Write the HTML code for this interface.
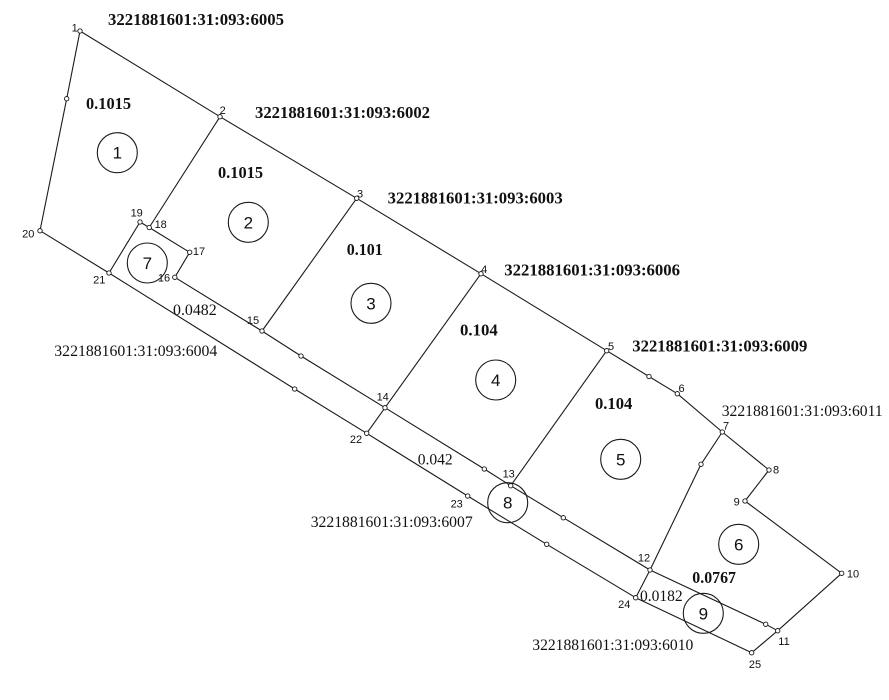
<!DOCTYPE html>
<html>
<head>
<meta charset="utf-8">
<style>
html,body{margin:0;padding:0;background:#fff;}
svg{display:block;}
.ln{fill:none;stroke:#1a1a1a;stroke-width:1.1;stroke-linejoin:round;}
.nd{fill:#fff;stroke:#1a1a1a;stroke-width:0.9;}
.cir{fill:none;stroke:#1a1a1a;stroke-width:1.1;}
.id{font-family:"Liberation Sans",sans-serif;font-size:11px;fill:#111;text-anchor:middle;}
.cn{font-family:"Liberation Sans",sans-serif;font-size:17px;fill:#111;text-anchor:middle;}
.bl{font-family:"Liberation Serif",serif;font-size:16.5px;font-weight:bold;fill:#111;}
.nl{font-family:"Liberation Serif",serif;font-size:15.7px;fill:#111;}
</style>
</head>
<body>
<svg width="889" height="700" viewBox="0 0 889 700" xmlns="http://www.w3.org/2000/svg">
<rect width="889" height="700" fill="#fff"/>
<!-- outer boundary -->
<polyline class="ln" points="80,31 220,116.7 356.7,198.3 481,273.7 606.7,350.7 649,376.5 677.3,393.7 722.3,432 769,470 745,501 841.7,573.3 777.7,630.7 751.7,652.7 635.7,597.7 546.7,544.3 467.7,496 366.7,433.3 294.7,389 109,273 40,230.7 66.7,98.7 80,31"/>
<!-- inner line -->
<polyline class="ln" points="189.7,252.3 174.8,277.3 262,331 301,356 385,407.7 484.3,469 510.7,485.7 563.3,517.7 650,570 765.7,624.3 777.7,630.7"/>
<polyline class="ln" points="109,273 140,222 149.2,227.5 189.7,252.3"/>
<line class="ln" x1="220" y1="116.7" x2="149.2" y2="227.5"/>
<line class="ln" x1="356.7" y1="198.3" x2="262" y2="331"/>
<polyline class="ln" points="481,273.7 385,407.7 366.7,433.3"/>
<line class="ln" x1="606.7" y1="350.7" x2="510.7" y2="485.7"/>
<polyline class="ln" points="722.3,432 701,464.3 650,570 635.7,597.7"/>

<!-- parcel circles -->
<circle class="cir" cx="117.3" cy="152.7" r="20"/>
<circle class="cir" cx="248.3" cy="222.3" r="20"/>
<circle class="cir" cx="371" cy="303.3" r="20"/>
<circle class="cir" cx="495.7" cy="380" r="20"/>
<circle class="cir" cx="620.7" cy="459.3" r="20"/>
<circle class="cir" cx="738.7" cy="544.3" r="20"/>
<circle class="cir" cx="147.3" cy="263" r="20"/>
<circle class="cir" cx="507.7" cy="502.7" r="20"/>
<circle class="cir" cx="703.3" cy="613.3" r="20"/>

<text class="cn" x="117.3" y="158.7">1</text>
<text class="cn" x="248.3" y="228.3">2</text>
<text class="cn" x="371" y="309.3">3</text>
<text class="cn" x="495.7" y="386">4</text>
<text class="cn" x="620.7" y="465.3">5</text>
<text class="cn" x="738.7" y="550.3">6</text>
<text class="cn" x="147.3" y="269">7</text>
<text class="cn" x="507.7" y="508.7">8</text>
<text class="cn" x="703.3" y="619.3">9</text>

<!-- nodes -->
<g>
<circle class="nd" cx="80" cy="31" r="2.2"/>
<circle class="nd" cx="220" cy="116.7" r="2.2"/>
<circle class="nd" cx="356.7" cy="198.3" r="2.2"/>
<circle class="nd" cx="481" cy="273.7" r="2.2"/>
<circle class="nd" cx="606.7" cy="350.7" r="2.2"/>
<circle class="nd" cx="649" cy="376.5" r="2.2"/>
<circle class="nd" cx="677.3" cy="393.7" r="2.2"/>
<circle class="nd" cx="722.3" cy="432" r="2.2"/>
<circle class="nd" cx="769" cy="470" r="2.2"/>
<circle class="nd" cx="745" cy="501" r="2.2"/>
<circle class="nd" cx="841.7" cy="573.3" r="2.2"/>
<circle class="nd" cx="777.7" cy="630.7" r="2.2"/>
<circle class="nd" cx="765.7" cy="624.3" r="2.2"/>
<circle class="nd" cx="751.7" cy="652.7" r="2.2"/>
<circle class="nd" cx="635.7" cy="597.7" r="2.2"/>
<circle class="nd" cx="546.7" cy="544.3" r="2.2"/>
<circle class="nd" cx="467.7" cy="496" r="2.2"/>
<circle class="nd" cx="366.7" cy="433.3" r="2.2"/>
<circle class="nd" cx="294.7" cy="389" r="2.2"/>
<circle class="nd" cx="109" cy="273" r="2.2"/>
<circle class="nd" cx="40" cy="230.7" r="2.2"/>
<circle class="nd" cx="66.7" cy="98.7" r="2.2"/>
<circle class="nd" cx="189.7" cy="252.3" r="2.2"/>
<circle class="nd" cx="174.8" cy="277.3" r="2.2"/>
<circle class="nd" cx="262" cy="331" r="2.2"/>
<circle class="nd" cx="301" cy="356" r="2.2"/>
<circle class="nd" cx="385" cy="407.7" r="2.2"/>
<circle class="nd" cx="484.3" cy="469" r="2.2"/>
<circle class="nd" cx="510.7" cy="485.7" r="2.2"/>
<circle class="nd" cx="563.3" cy="517.7" r="2.2"/>
<circle class="nd" cx="650" cy="570" r="2.2"/>
<circle class="nd" cx="140" cy="222" r="2.2"/>
<circle class="nd" cx="149.2" cy="227.5" r="2.2"/>
<circle class="nd" cx="701" cy="464.3" r="2.2"/>
</g>

<!-- point ids -->
<text class="id" x="74.7" y="31.5">1</text>
<text class="id" x="222.7" y="114">2</text>
<text class="id" x="360" y="197.3">3</text>
<text class="id" x="484.2" y="273">4</text>
<text class="id" x="611" y="350">5</text>
<text class="id" x="681.5" y="392">6</text>
<text class="id" x="726" y="429.7">7</text>
<text class="id" x="776" y="473.5">8</text>
<text class="id" x="736.7" y="505.7">9</text>
<text class="id" x="853" y="577.3">10</text>
<text class="id" x="784" y="645">11</text>
<text class="id" x="644" y="561.7">12</text>
<text class="id" x="508.7" y="477.7">13</text>
<text class="id" x="382.7" y="400.7">14</text>
<text class="id" x="253" y="324">15</text>
<text class="id" x="164" y="281.7">16</text>
<text class="id" x="199" y="255">17</text>
<text class="id" x="160.7" y="228">18</text>
<text class="id" x="136.7" y="216.7">19</text>
<text class="id" x="28.3" y="237.3">20</text>
<text class="id" x="99.3" y="283.3">21</text>
<text class="id" x="356" y="443">22</text>
<text class="id" x="456.7" y="507.3">23</text>
<text class="id" x="624.3" y="608">24</text>
<text class="id" x="755" y="668">25</text>

<!-- cadastral labels bold -->
<text class="bl" x="108" y="25" textLength="176" lengthAdjust="spacingAndGlyphs">3221881601:31:093:6005</text>
<text class="bl" x="255" y="118" textLength="175" lengthAdjust="spacingAndGlyphs">3221881601:31:093:6002</text>
<text class="bl" x="387.7" y="203.7" textLength="175" lengthAdjust="spacingAndGlyphs">3221881601:31:093:6003</text>
<text class="bl" x="504.3" y="275.5" textLength="175.7" lengthAdjust="spacingAndGlyphs">3221881601:31:093:6006</text>
<text class="bl" x="632.3" y="351.5" textLength="175" lengthAdjust="spacingAndGlyphs">3221881601:31:093:6009</text>

<!-- cadastral labels normal -->
<text class="nl" x="721.7" y="416.2" textLength="161" lengthAdjust="spacingAndGlyphs">3221881601:31:093:6011</text>
<text class="nl" x="54.3" y="356.2" textLength="163" lengthAdjust="spacingAndGlyphs">3221881601:31:093:6004</text>
<text class="nl" x="310.7" y="527" textLength="162" lengthAdjust="spacingAndGlyphs">3221881601:31:093:6007</text>
<text class="nl" x="532.3" y="650.2" textLength="161" lengthAdjust="spacingAndGlyphs">3221881601:31:093:6010</text>

<!-- areas -->
<text class="bl" x="86" y="109" textLength="45" lengthAdjust="spacingAndGlyphs">0.1015</text>
<text class="bl" x="218" y="178" textLength="45" lengthAdjust="spacingAndGlyphs">0.1015</text>
<text class="bl" x="346.7" y="254.8" textLength="36" lengthAdjust="spacingAndGlyphs">0.101</text>
<text class="bl" x="460" y="335.5" textLength="37.7" lengthAdjust="spacingAndGlyphs">0.104</text>
<text class="bl" x="595" y="408.8" textLength="37.3" lengthAdjust="spacingAndGlyphs">0.104</text>
<text class="bl" x="692.3" y="582.8" textLength="43.7" lengthAdjust="spacingAndGlyphs">0.0767</text>
<text class="nl" x="173" y="315.2" textLength="43.7" lengthAdjust="spacingAndGlyphs">0.0482</text>
<text class="nl" x="417.7" y="464.5" textLength="35" lengthAdjust="spacingAndGlyphs">0.042</text>
<text class="nl" x="640" y="601" textLength="42.7" lengthAdjust="spacingAndGlyphs">0.0182</text>
</svg>
</body>
</html>
